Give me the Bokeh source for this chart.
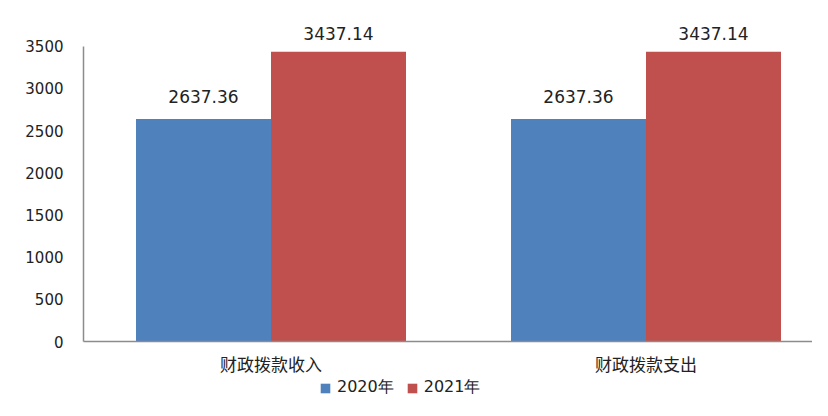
from bokeh.plotting import figure
from bokeh.models import ColumnDataSource, Range1d, FixedTicker, Legend, LegendItem
from bokeh.layouts import column
from bokeh.transform import dodge
from bokeh.core.properties import value
from bokeh.embed import file_html
from bokeh.resources import INLINE

categories = ["财政拨款收入", "财政拨款支出"]
series_2020 = [2637.36, 2637.36]
series_2021 = [3437.14, 3437.14]
series_names = ["2020年", "2021年"]
y_ticks = [0, 500, 1000, 1500, 2000, 2500, 3000, 3500]

blue = "#4F81BD"
red = "#C0504D"

xpos = [i + 0.5 for i in range(len(categories))]
src = ColumnDataSource(data=dict(
    x=xpos,
    v2020=series_2020,
    v2021=series_2021,
    l2020=[f"{v:.2f}" for v in series_2020],
    l2021=[f"{v:.2f}" for v in series_2021],
))

p = figure(width=812, height=378, output_backend="svg", toolbar_location=None,
           x_range=Range1d(0, 1.944), y_range=Range1d(0, 3830))
p.min_border_left = 83
p.min_border_right = 0
p.min_border_top = 18
p.min_border_bottom = 33
p.outline_line_color = None
p.xgrid.visible = False
p.ygrid.visible = False

r1 = p.vbar(x=dodge("x", -0.18), top="v2020", width=0.36, source=src,
            fill_color=blue, line_color=None)
r2 = p.vbar(x=dodge("x", 0.18), top="v2021", width=0.36, source=src,
            fill_color=red, line_color=None)

for col, lab, off, yo in (("v2020", "l2020", -0.18, -16), ("v2021", "l2021", 0.18, -12)):
    p.text(x=dodge("x", off), y=col, text=lab, source=src,
           text_align="center", text_baseline="bottom", y_offset=yo,
           text_font=value("DejaVu Sans"), text_font_size="17px", text_color="#222222")

p.yaxis.ticker = FixedTicker(ticks=y_ticks)
p.yaxis.bounds = (0, 3500)
p.yaxis.major_tick_line_color = None
p.yaxis.minor_tick_line_color = None
p.yaxis.axis_line_color = "#8c8c8c"
p.yaxis.axis_line_width = 1.5
p.yaxis.major_label_text_font = "DejaVu Sans"
p.yaxis.major_label_text_font_size = "15px"
p.yaxis.major_label_text_color = "#222222"
p.yaxis.major_label_standoff = 14

p.xaxis.ticker = FixedTicker(ticks=xpos)
p.xaxis.major_label_overrides = {x: c for x, c in zip(xpos, categories)}
p.xaxis.major_tick_line_color = None
p.xaxis.minor_tick_line_color = None
p.xaxis.axis_line_color = "#8c8c8c"
p.xaxis.axis_line_width = 1.5
p.xaxis.major_label_text_font = "Noto Sans CJK SC"
p.xaxis.major_label_text_font_size = "17px"
p.xaxis.major_label_text_color = "#222222"
p.xaxis.major_label_standoff = 3

# legend strip below the chart
leg_src = ColumnDataSource(data=dict(x=[-5.0], top=[-5.0]))
p2 = figure(width=812, height=22, output_backend="svg", toolbar_location=None,
            x_range=Range1d(0, 1), y_range=Range1d(0, 1),
            x_axis_location=None, y_axis_location=None)
p2.min_border = 0
p2.outline_line_color = None
p2.xgrid.visible = False
p2.ygrid.visible = False
q1 = p2.vbar(x="x", top="top", width=0.1, source=leg_src,
             fill_color=blue, line_color=None)
q2 = p2.vbar(x="x", top="top", width=0.1, source=leg_src,
             fill_color=red, line_color=None)
legend = Legend(items=[LegendItem(label=series_names[0], renderers=[q1]),
                       LegendItem(label=series_names[1], renderers=[q2])],
                orientation="horizontal", location=(236, 2),
                label_text_font="DejaVu Sans", label_text_font_size="16px",
                label_text_color="#222222", glyph_width=12, glyph_height=12,
                spacing=12, label_standoff=6, border_line_color=None,
                background_fill_alpha=0, padding=0, margin=0)
p2.add_layout(legend, "center")

layout = column(p, p2, spacing=0)
open("out.html", "w").write(file_html(layout, INLINE))
